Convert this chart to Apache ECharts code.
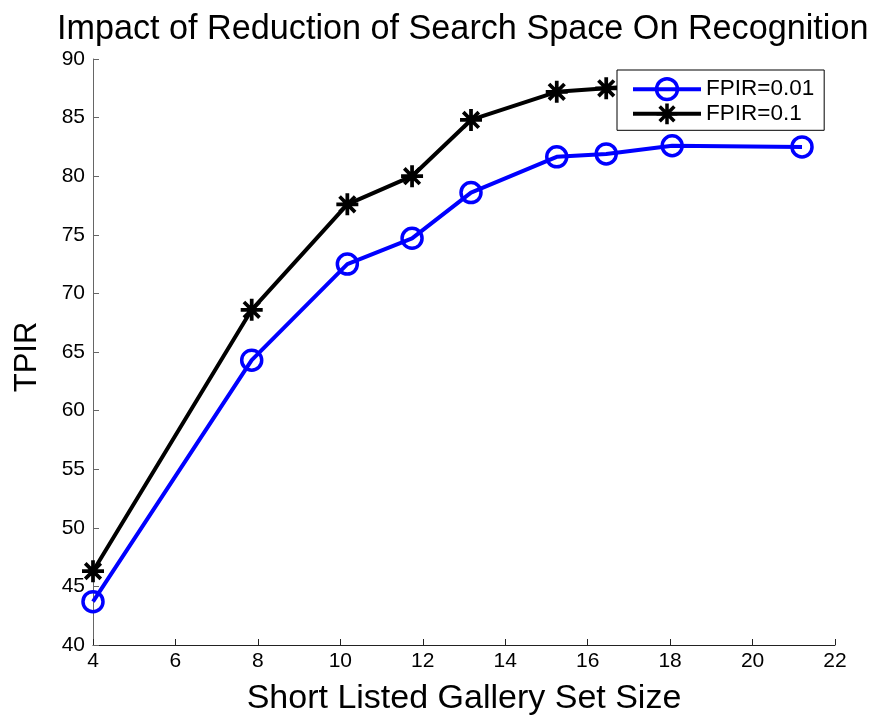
<!DOCTYPE html>
<html>
<head>
<meta charset="utf-8">
<script src="https://cdn.jsdelivr.net/npm/echarts@6/dist/echarts.min.js"></script>
<style>html,body{margin:0;padding:0;background:#fff;}#c{width:876px;height:721px;}</style>
</head>
<body>
<div id="c"></div>
<script>
const titleText = 'Impact of Reduction of Search Space On Recognition';
const xName = 'Short Listed Gallery Set Size';
const yName = 'TPIR';
const seriesNames = ['FPIR=0.01', 'FPIR=0.1'];
const galleryX = [4, 7.85, 10.17, 11.74, 13.17, 15.25, 16.45, 18.05, 21.2];
const tpirFpir001 = [43.7, 64.3, 72.5, 74.7, 78.6, 81.65, 81.9, 82.6, 82.5];
const tpirFpir01 = [46.3, 68.6, 77.6, 80.0, 84.8, 87.2, 87.5, 87.9, 88.0];

const FONT = '"Liberation Sans", Arial, Helvetica, sans-serif';
const star = 'path://M-10,-1.7L10,-1.7L10,1.7L-10,1.7Z M1.7,-10L1.7,10L-1.7,10L-1.7,-10Z M-5.87,-8.27L8.27,5.87L5.87,8.27L-8.27,-5.87Z M-8.27,5.87L5.87,-8.27L8.27,-5.87L-5.87,8.27Z';

function pairs(xs, ys) { return xs.map((x, i) => [x, ys[i]]); }

const chart = echarts.init(document.getElementById('c'), null, {renderer: 'canvas'});
chart.setOption({
  backgroundColor: '#fff',
  animation: false,
  title: {
    text: titleText, left: 57, top: 13, padding: 0,
    textStyle: {fontFamily: FONT, fontSize: 34.2, fontWeight: 'normal', color: '#000'}
  },
  grid: {left: 93, right: 41, top: 59, bottom: 73, containLabel: false},
  legend: {
    left: 617, top: 70, orient: 'vertical', selectedMode: false,
    backgroundColor: '#fff', borderColor: '#000', borderWidth: 1,
    padding: [7, 10, 5, 14], itemWidth: 68, itemHeight: 26, itemGap: 1,
    textStyle: {fontFamily: FONT, fontSize: 22.5, color: '#000'},
    data: [
      {name: seriesNames[0], lineStyle: {width: 4, color: '#0000ff'}, itemStyle: {color: 'rgba(0,0,0,0)', borderColor: '#0000ff', borderWidth: 3.5}},
      {name: seriesNames[1], lineStyle: {width: 4, color: '#000'}, itemStyle: {color: '#000'}}
    ]
  },
  xAxis: {
    type: 'value', min: 4, max: 22, interval: 2,
    name: xName, nameLocation: 'middle', nameGap: 37,
    nameTextStyle: {fontFamily: FONT, fontSize: 34, color: '#000'},
    axisLine: {show: true, lineStyle: {color: '#222', width: 1}},
    axisTick: {show: true, inside: true, length: 6, lineStyle: {color: '#222'}},
    axisLabel: {fontFamily: FONT, fontSize: 21, color: '#000', margin: 6},
    splitLine: {show: false}
  },
  yAxis: {
    type: 'value', min: 40, max: 90, interval: 5,
    name: yName, nameLocation: 'middle', nameGap: 50,
    nameTextStyle: {fontFamily: FONT, fontSize: 31, color: '#000', padding: [0, 10, 0, 0]},
    axisLine: {show: true, lineStyle: {color: '#666', width: 1}},
    axisTick: {show: true, inside: true, length: 6, lineStyle: {color: '#666'}},
    axisLabel: {fontFamily: FONT, fontSize: 21, color: '#000', margin: 8},
    splitLine: {show: false}
  },
  series: [
    {
      name: seriesNames[0], type: 'line', data: pairs(galleryX, tpirFpir001),
      symbol: 'circle', symbolSize: 20,
      lineStyle: {color: '#0000ff', width: 4},
      itemStyle: {color: 'rgba(0,0,0,0)', borderColor: '#0000ff', borderWidth: 3.5},
      z: 2
    },
    {
      name: seriesNames[1], type: 'line', data: pairs(galleryX, tpirFpir01),
      symbol: star, symbolSize: 22,
      lineStyle: {color: '#000', width: 4},
      itemStyle: {color: '#000'},
      z: 3
    }
  ]
});
</script>
</body>
</html>
